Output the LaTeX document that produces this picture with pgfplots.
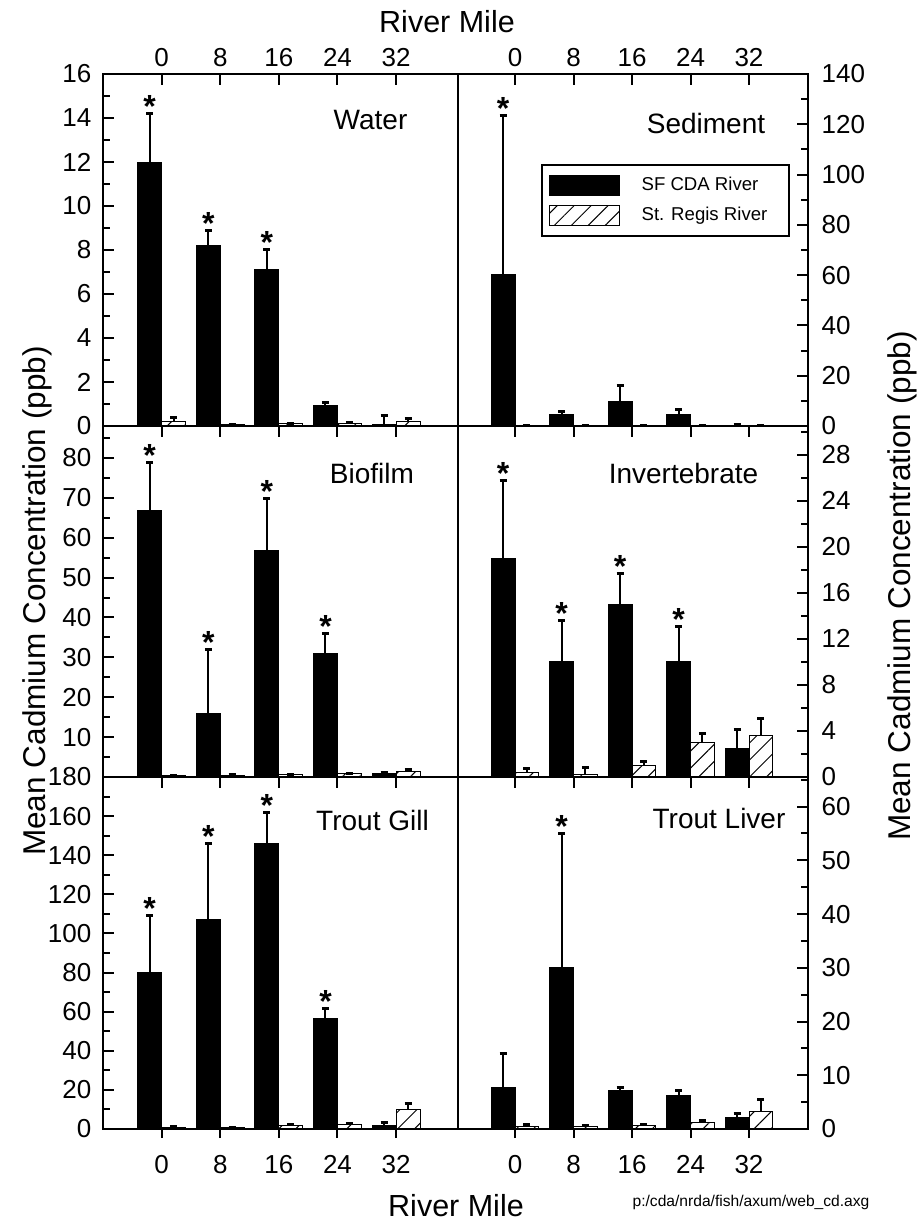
\documentclass[border=0pt]{standalone}
\usepackage{fontspec}
\setmainfont{Liberation Sans}
\usepackage{pgfplots}
\usepackage{pgfplotstable}
\pgfplotsset{compat=1.18}
\usetikzlibrary{patterns.meta}

% mile, SF CDA mean, SF CDA error, St. Regis mean, St. Regis error, star height (nan = no star)
\pgfplotstableread{
mile sf    sfe   sr   sre  star
0    12.0  2.2   0.21 0.18 14.2
8    8.21  0.68  0.08 0.01 8.89
16   7.12  0.9   0.10 0.02 8.02
24   0.92  0.17  0.13 0.02 nan
32   0.06  0.42  0.21 0.11 nan
}\water
\pgfplotstableread{
mile sf    sfe   sr   sre  star
0    60.3  63.0  0.3  0    123.3
8    4.7   1.0   0.3  0    nan
16   9.7   6.3   0.3  0    nan
24   4.7   2.0   0.3  0    nan
32   0.3   0.1   0.3  0    nan
}\sediment
\pgfplotstableread{
mile sf    sfe   sr   sre  star
0    66.9  12.0  0.35 0.1  78.9
8    16.0  15.9  0.40 0.1  31.9
16   56.9  12.85 0.60 0.1  69.75
24   31.0  5.0   0.75 0.2  36.0
32   0.85  0.2   1.5  0.3  nan
}\biofilm
\pgfplotstableread{
mile sf    sfe   sr   sre  star
0    19.0  6.8   0.38 0.34 25.8
8    10.0  3.6   0.26 0.58 13.6
16   15.0  2.7   0.99 0.37 17.7
24   10.0  3.07  3.04 0.73 13.07
32   2.46  1.63  3.57 1.53 nan
}\invert
\pgfplotstableread{
mile sf    sfe   sr   sre  star
0    80.2  29.0  0.85 0.35 109.2
8    107.0 38.9  0.7  0.2  145.9
16   146.2 15.9  1.7  0.5  162.1
24   56.3  5.3   2.2  0.5  61.6
32   2.0   1.2   9.9  3.1  nan
}\gill
\pgfplotstableread{
mile sf    sfe   sr   sre  star
0    7.76  6.22  0.56 0.19 nan
8    30.1  24.9  0.43 0.25 55.0
16   7.2   0.5   0.62 0.31 nan
24   6.27  0.93  1.24 0.31 nan
32   2.17  0.63  3.35 2.18 nan
}\liver

\pgfplotsset{
  panel/.style={
    scale only axis, anchor=north west, clip=false,
    axis line style={line width=1.3pt},
    every tick/.append style={black, line width=1pt},
    major tick length=5.5pt, minor tick length=3.5pt,
    tick align=inside,
    xtick={0,8,16,24,32}, xtick pos=upper,
    tick label style={font=\fontsize{13}{15}\selectfont},
    /pgf/number format/assume math mode=true,
    error bars/error bar style={line width=1pt, black},
    error bars/error mark=-,
    error bars/error mark options={rotate=90, line width=1.5pt, mark size=1.75pt, black},
  },
  leftcol/.style={width=177.5pt, xmin=-8, xmax=40.45, ytick pos=left,
    yticklabel style={xshift=-2.3pt}},
  rightcol/.style={width=175pt, xmin=-7.8, xmax=40.07, ytick pos=right,
    yticklabel pos=right, yticklabel style={xshift=3.3pt}},
  bottomticks/.style={
    scale only axis, anchor=north west, height=176pt, ymin=0, ymax=1,
    axis line style={draw=none}, ytick=\empty,
    xtick={0,8,16,24,32}, xtick pos=lower, tick align=outside,
    major tick length=4.5pt, every tick/.append style={black, line width=1pt},
    tick label style={font=\fontsize{13}{15}\selectfont},
    /pgf/number format/assume math mode=true,
    xticklabel style={yshift=-5pt},
  },
  sf/.style={ybar, bar width=3.27, bar shift=0pt, fill=black, draw=black,
    line width=0.5pt,
    legend image code/.code={\draw[##1] (0pt,-5pt) rectangle (35pt,5pt);},
    error bars/.cd, y dir=plus, y explicit},
  sr/.style={ybar, bar width=3.27, bar shift=0pt, draw=black, line width=0.5pt,
    pattern={Lines[angle=45, distance=6pt, line width=0.5pt]},
    legend image code/.code={\draw[##1] (0pt,-5pt) rectangle (35pt,5pt);},
    error bars/.cd, y dir=plus, y explicit},
  stars/.style={draw=none, mark=none,
    nodes near coords={\bfseries *},
    nodes near coords style={anchor=base, yshift=-2pt, inner sep=0pt,
      font=\fontsize{16}{16}\selectfont, text=black}},
}
% black bars sit left of the river-mile tick, hatched bars right of it
\newcommand\cdabars[1]{%
  \addplot[sf] table[x expr=\thisrow{mile}-1.635, y=sf, y error=sfe] {#1};
  \addplot[sr] table[x expr=\thisrow{mile}+1.635, y=sr, y error=sre] {#1};
  \addplot[stars] table[x expr=\thisrow{mile}-1.635, y=star] {#1};
}

\begin{document}
\begin{tikzpicture}
\useasboundingbox (0pt,0pt) rectangle (459.5pt,-610.5pt);

% ---------- Water ----------
\begin{axis}[panel, leftcol, at={(51.5pt,-37pt)}, height=176pt,
  ymin=0, ymax=16, ytick={0,2,...,16}, minor ytick={1,3,...,15},
  xticklabel pos=upper]
\cdabars{\water}
\end{axis}

% ---------- Sediment ----------
\begin{axis}[panel, rightcol, at={(229pt,-37pt)}, height=176pt,
  ymin=0, ymax=140, ytick={0,20,...,140}, minor ytick={10,30,...,130},
  xticklabel pos=upper,
  legend style={at={(rel axis cs:0.236,0.744)}, anchor=north west, draw=black,
    line width=1pt, font=\fontsize{9.3}{11}\selectfont,
    inner xsep=3.5pt, inner ysep=4.2pt, row sep=2.5pt, column sep=9pt,
    nodes={inner sep=2pt}},
  legend cell align=left]
\cdabars{\sediment}
\legend{SF CDA River, St. Regis River\rule{5.5pt}{0pt}}
\end{axis}

% ---------- Biofilm ----------
\begin{axis}[panel, leftcol, at={(51.5pt,-213pt)}, height=175.5pt,
  ymin=0, ymax=88, ytick={10,20,...,80}, minor ytick={5,15,...,85},
  xticklabels={}]
\cdabars{\biofilm}
\end{axis}

% ---------- Invertebrate ----------
\begin{axis}[panel, rightcol, at={(229pt,-213pt)}, height=175.5pt,
  ymin=0, ymax=30.5, ytick={0,4,...,28}, minor ytick={2,6,...,30},
  xticklabels={}]
\cdabars{\invert}
\end{axis}

% ---------- Trout Gill ----------
\begin{axis}[panel, leftcol, at={(51.5pt,-388.5pt)}, height=176pt,
  ymin=0, ymax=180, ytick={0,20,...,180}, minor ytick={10,30,...,170},
  xticklabels={}]
\cdabars{\gill}
\end{axis}
\begin{axis}[bottomticks, leftcol, at={(51.5pt,-388.5pt)}]
\end{axis}

% ---------- Trout Liver ----------
\begin{axis}[panel, rightcol, at={(229pt,-388.5pt)}, height=176pt,
  ymin=0, ymax=65.5, ytick={0,10,...,60}, minor ytick={5,15,...,65},
  xticklabels={}]
\cdabars{\liver}
\end{axis}
\begin{axis}[bottomticks, rightcol, at={(229pt,-388.5pt)}]
\end{axis}

% ---------- panel names ----------
\begin{scope}[every node/.style={font=\fontsize{14}{16}\selectfont, inner sep=0pt}]
\node at (185.25pt,-60pt) {Water};
\node at (353pt,-61.5pt) {Sediment};
\node at (186pt,-236.5pt) {Biofilm};
\node at (341.75pt,-236.5pt) {Invertebrate};
\node at (186.25pt,-410pt) {Trout Gill};
\node at (359.5pt,-409pt) {Trout Liver};
\end{scope}

% ---------- axis titles ----------
\begin{scope}[every node/.style={font=\fontsize{15.25}{18}\selectfont, inner sep=0pt}]
\node at (223.5pt,-11pt) {River Mile};
\node at (228pt,-603pt) {River Mile};
\end{scope}
\begin{scope}[every node/.style={font=\fontsize{15.75}{18}\selectfont, inner sep=0pt}]
\node[rotate=90, anchor=base] at (22.5pt,-300.5pt) {Mean Cadmium Concentration (ppb)};
\node[rotate=90, anchor=base] at (455pt,-293pt) {Mean Cadmium Concentration (ppb)};
\end{scope}
\node[font=\fontsize{7.8}{9}\selectfont, inner sep=0pt] at (375.5pt,-601pt) {p:/cda/nrda/fish/axum/web\_cd.axg};
\end{tikzpicture}
\end{document}
